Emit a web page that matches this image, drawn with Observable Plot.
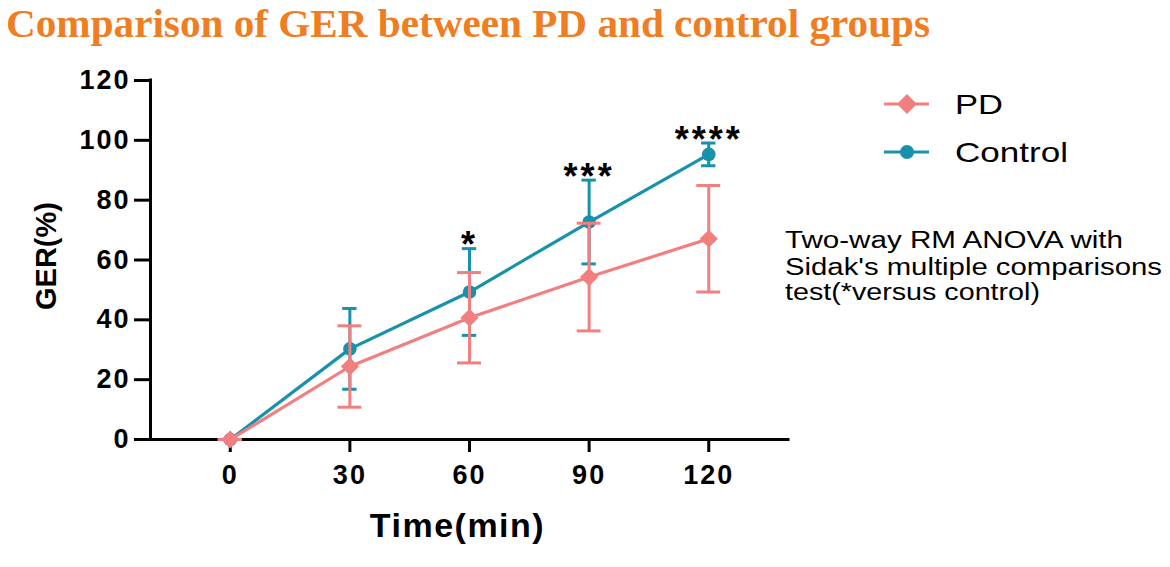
<!DOCTYPE html>
<html>
<head>
<meta charset="utf-8">
<script src="https://cdn.jsdelivr.net/npm/d3@7"></script>
<script src="https://cdn.jsdelivr.net/npm/@observablehq/plot@0.6"></script>
<style>
  html, body { margin: 0; padding: 0; background: #fff; }
  #wrap { width: 1170px; height: 567px; position: relative; overflow: hidden; }
  #title { height: 50px; }
  #chart { position: relative; width: 1170px; height: 517px; }
  #chart svg.overlay { position: absolute; left: 0; top: 0; pointer-events: none; }
</style>
</head>
<body>
<div id="wrap">
  <div id="title"></div>
  <div id="chart"></div>
</div>
<script>
// ---- data ----
const titleText = "Comparison of GER between PD and control groups";
const times = [0, 30, 60, 90, 120];
const pdMean = [0, 24.4, 40.7, 54.3, 67.1];
const pdSD = [0, 13.6, 15.1, 18.0, 17.8];
const ctrlMean = [0, 30.3, 49.3, 72.7, 95.3];
const ctrlSD = [0, 13.5, 14.5, 14.0, 3.8];
const sigLabels = ["", "", "*", "***", "****"];
const xTicks = [0, 30, 60, 90, 120];
const yTicks = [0, 20, 40, 60, 80, 100, 120];
const seriesNames = ["PD", "Control"];
const xLabel = "Time(min)";
const yLabel = "GER(%)";
const noteLines = [
  "Two-way RM ANOVA with",
  "Sidak's multiple comparisons",
  "test(*versus control)"
];

// ---- styles ----
const colors = { PD: "#F27F7F", Control: "#1891AB" };
const font = "'Liberation Sans', Arial, Helvetica, sans-serif";

const pdRows = times.map((t, i) => ({ series: "PD", time: t, mean: pdMean[i], sd: pdSD[i] }));
const ctrlRows = times.map((t, i) => ({ series: "Control", time: t, mean: ctrlMean[i], sd: ctrlSD[i] }));
const sigRows = times.map((t, i) => ({ time: t, label: sigLabels[i], top: ctrlMean[i] + ctrlSD[i] })).filter(d => d.label);

function seriesMarks(rows, name, capHalf, symbol, r) {
  const c = colors[name];
  return [
    Plot.line(rows, { x: "time", y: "mean", stroke: c, strokeWidth: 3.2 }),
    Plot.ruleX(rows, { x: "time", y1: d => d.mean - d.sd, y2: d => d.mean + d.sd, stroke: c, strokeWidth: 3 }),
    Plot.ruleY(rows, { y: d => d.mean + d.sd, x1: d => d.time - capHalf, x2: d => d.time + capHalf, stroke: c, strokeWidth: 3 }),
    Plot.ruleY(rows, { y: d => d.mean - d.sd, x1: d => d.time - capHalf, x2: d => d.time + capHalf, stroke: c, strokeWidth: 3 }),
    Plot.dot(rows, { x: "time", y: "mean", fill: c, stroke: "none", symbol, r })
  ];
}

const chart = Plot.plot({
  width: 1170,
  height: 517,
  marginTop: 30,
  marginBottom: 128,
  marginLeft: 150,
  marginRight: 382,
  x: { domain: [-20, 140] },
  y: { domain: [0, 120] },
  style: { fontFamily: font, fontWeight: "bold", color: "#000", background: "transparent", overflow: "visible" },
  marks: [
    Plot.ruleX([-20], { stroke: "#000", strokeWidth: 3, strokeLinecap: "square" }),
    Plot.ruleY([0], { stroke: "#000", strokeWidth: 3, strokeLinecap: "square" }),
    Plot.axisY({ ticks: yTicks, tickSize: 16, tickPadding: 4, fontSize: 27, fontWeight: "bold", strokeWidth: 3, label: null }),
    Plot.axisX({ ticks: xTicks, tickSize: 13, tickPadding: 12, fontSize: 27, fontWeight: "bold", strokeWidth: 3, label: null }),
    ...seriesMarks(ctrlRows, "Control", 1.8, "circle", 6.8),
    ...seriesMarks(pdRows, "PD", 3, "diamond2", 8.2),
    Plot.text(sigRows, { x: "time", y: "top", text: "label", fontSize: 36, fontWeight: "bold", lineAnchor: "middle", dy: -3, fill: "#000" }),
    Plot.text([yLabel], { frameAnchor: "left", textAnchor: "middle", rotate: -90, dx: -104, dy: -4, fontSize: 29, fontWeight: "bold", fill: "#000" }),
    Plot.text([xLabel], { frameAnchor: "bottom", textAnchor: "middle", dx: -12, dy: 97, fontSize: 34, fontWeight: "bold", fill: "#000" })
  ]
});
chart.querySelectorAll('g[aria-label$="tick label"]').forEach(g => g.setAttribute("letter-spacing", "2"));
chart.querySelectorAll("text").forEach(t => {
  const s = t.textContent;
  if (/^\*+$/.test(s)) t.setAttribute("letter-spacing", "3");
  if (s === xLabel) t.setAttribute("letter-spacing", "1.5");
});
document.getElementById("chart").appendChild(chart);

// ---- title ----
const tsvg = d3.create("svg").attr("width", 1170).attr("height", 50);
tsvg.append("text")
  .attr("x", 6).attr("y", 37)
  .attr("font-family", "'Liberation Serif', 'Times New Roman', serif")
  .attr("font-weight", "bold").attr("font-size", 40)
  .attr("fill", "#EF7D22")
  .attr("textLength", 924).attr("lengthAdjust", "spacingAndGlyphs")
  .text(titleText);
document.getElementById("title").appendChild(tsvg.node());

// ---- legend + note overlay ----
const ov = d3.create("svg").attr("class", "overlay").attr("width", 1170).attr("height", 517);
const legendY = [54, 102];
const legendTextLen = { PD: 48, Control: 113 };
seriesNames.forEach((name, i) => {
  const y = legendY[i];
  const g = ov.append("g");
  g.append("line").attr("x1", 884).attr("x2", 929).attr("y1", y).attr("y2", y)
    .attr("stroke", colors[name]).attr("stroke-width", 3);
  if (name === "PD") {
    g.append("path").attr("d", `M907,${y - 10}L917,${y}L907,${y + 10}L897,${y}Z`).attr("fill", colors[name]);
  } else {
    g.append("circle").attr("cx", 907).attr("cy", y).attr("r", 7).attr("fill", colors[name]);
  }
  g.append("text").attr("x", 955).attr("y", y + 10)
    .attr("font-family", font).attr("font-size", 28).attr("fill", "#000")
    .attr("textLength", legendTextLen[name]).attr("lengthAdjust", "spacingAndGlyphs")
    .text(name);
});
const noteY = [198, 225, 250];
const noteLen = [338, 377, 255];
noteLines.forEach((line, i) => {
  ov.append("text").attr("x", 785).attr("y", noteY[i])
    .attr("font-family", font).attr("font-size", 23).attr("fill", "#000")
    .attr("textLength", noteLen[i]).attr("lengthAdjust", "spacingAndGlyphs")
    .text(line);
});
document.getElementById("chart").appendChild(ov.node());
</script>
</body>
</html>
